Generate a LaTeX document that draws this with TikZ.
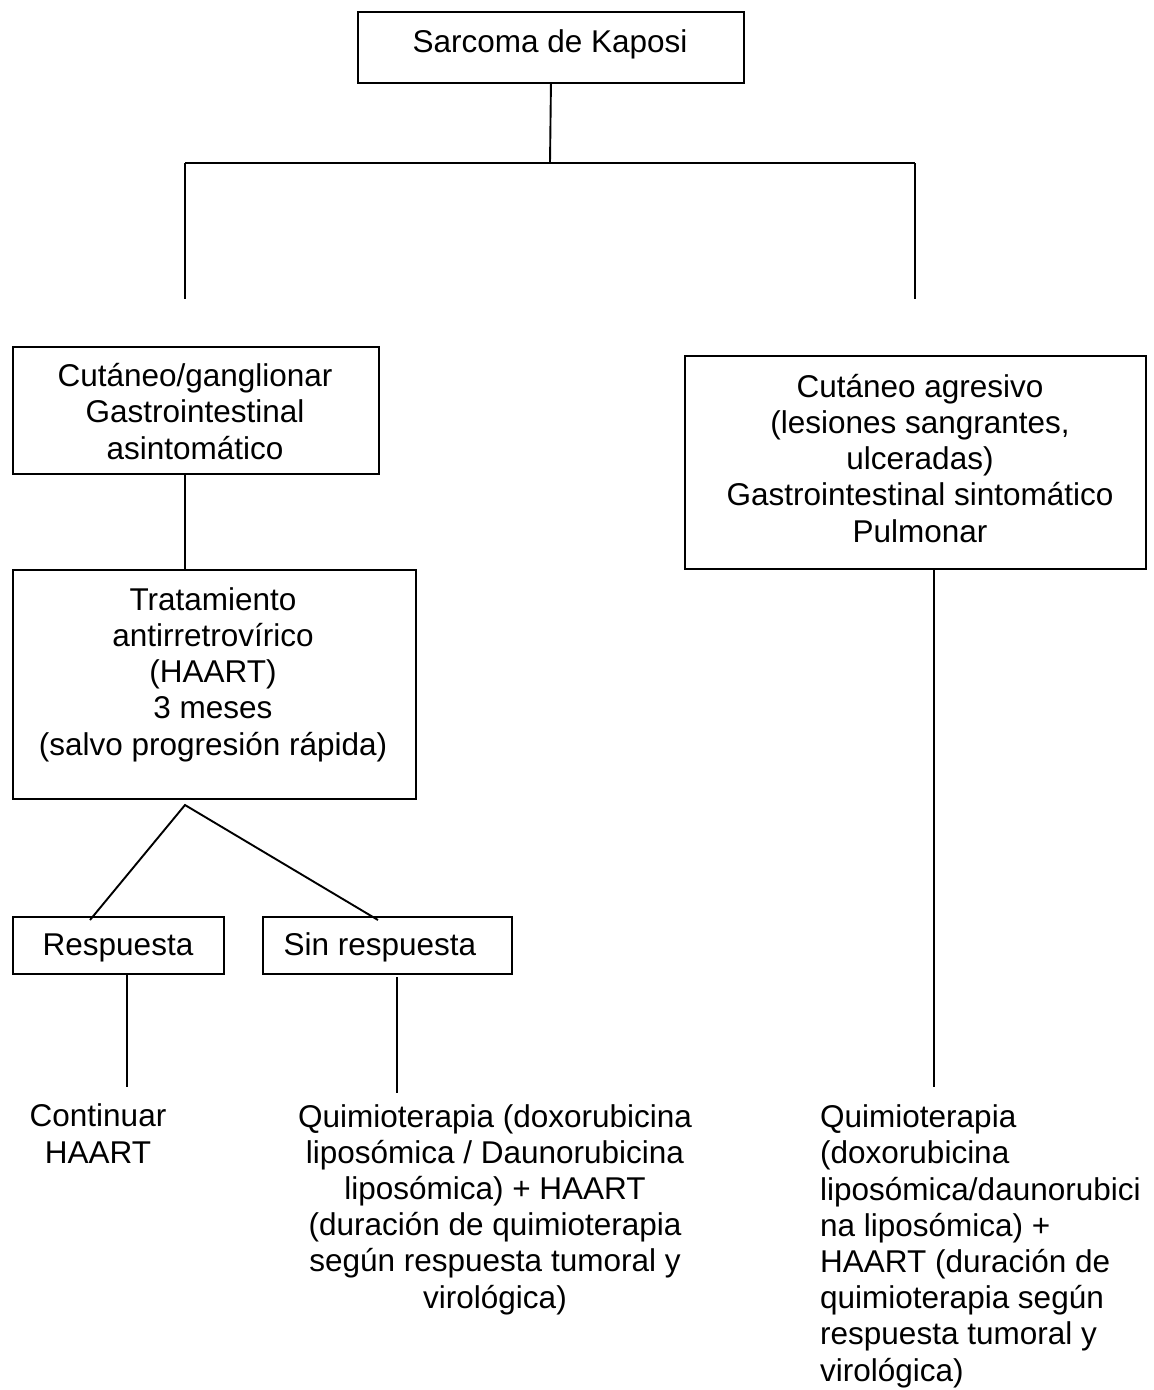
\documentclass[tikz,border=0pt]{standalone}
\usepackage{fontspec}
\setmainfont{Liberation Sans}
\begin{document}
\begin{tikzpicture}[x=1pt,y=-1pt,
  box/.style={draw,line width=1.9pt,rectangle,inner sep=0pt,anchor=north west},
  txt/.style={inner sep=0pt,align=center,font=\fontsize{31.5}{36.2}\selectfont},
  ln/.style={line width=1.9pt}]
\useasboundingbox (0,0) rectangle (1154,1390);
% boxes
\node[box,minimum width=386pt,minimum height=71pt] (top) at (357,11) {};
\node[box,minimum width=366pt,minimum height=127pt] (cut) at (12,346) {};
\node[box,minimum width=403pt,minimum height=229pt] (trat) at (12,569) {};
\node[box,minimum width=211pt,minimum height=57pt] (resp) at (12,916) {};
\node[box,minimum width=249pt,minimum height=57pt] (sinr) at (262,916) {};
\node[box,minimum width=461pt,minimum height=213pt] (agr) at (684,355) {};
% texts (anchor = baseline of last line)
\node[txt,anchor=base] (ttop) at (550,52) {Sarcoma de Kaposi};
\node[txt,anchor=base] (tcut) at (195,459) {Cutáneo/ganglionar\\Gastrointestinal\\asintomático};
\node[txt,anchor=base] (ttrat) at (213,755) {Tratamiento\\antirretrovírico\\(HAART)\\3 meses\\(salvo progresión rápida)};
\node[txt,anchor=base] (tresp) at (118,955) {Respuesta};
\node[txt,anchor=base] (tsinr) at (380,955) {Sin respuesta};
\node[txt,anchor=base] (tagr) at (920,542) {Cutáneo agresivo\\(lesiones sangrantes,\\ulceradas)\\Gastrointestinal sintomático\\Pulmonar};
\node[txt,anchor=base] (tcont) at (98,1163) {Continuar\\HAART};
\node[txt,anchor=base] (tquim) at (495,1308) {Quimioterapia (doxorubicina\\liposómica / Daunorubicina\\liposómica) + HAART\\(duración de quimioterapia\\según respuesta tumoral y\\virológica)};
\node[txt,anchor=base west,align=left] (tquim2) at (820,1381) {Quimioterapia\\(doxorubicina\\liposómica/daunorubici\\na liposómica) +\\HAART (duración de\\quimioterapia según\\respuesta tumoral y\\virológica)};
% junction coordinates
\coordinate (jt) at (550,163);
\coordinate (jl) at (185,163);
\coordinate (jr) at (915,163);
\coordinate (el) at (185,299);
\coordinate (er) at (915,299);
\coordinate (apex) at (185,805);
\coordinate (ra) at (90,920);
\coordinate (sa) at (378,920);
\coordinate (rs) at (127,973);
\coordinate (re) at (127,1087);
\coordinate (ss) at (397,977);
\coordinate (se) at (397,1093);
\coordinate (as) at (934,568);
\coordinate (ae) at (934,1087);
% connectors
\draw[ln] (top.south) -- (jt);
\draw[ln] (jl) -- (jr);
\draw[ln] (jl) -- (el);
\draw[ln] (jr) -- (er);
\draw[ln] (cut.south -| jl) -- (trat.north -| jl);
\draw[ln] (ra) -- (apex) -- (sa);
\draw[ln] (rs) -- (re);
\draw[ln] (ss) -- (se);
\draw[ln] (as) -- (ae);
\end{tikzpicture}
\end{document}
